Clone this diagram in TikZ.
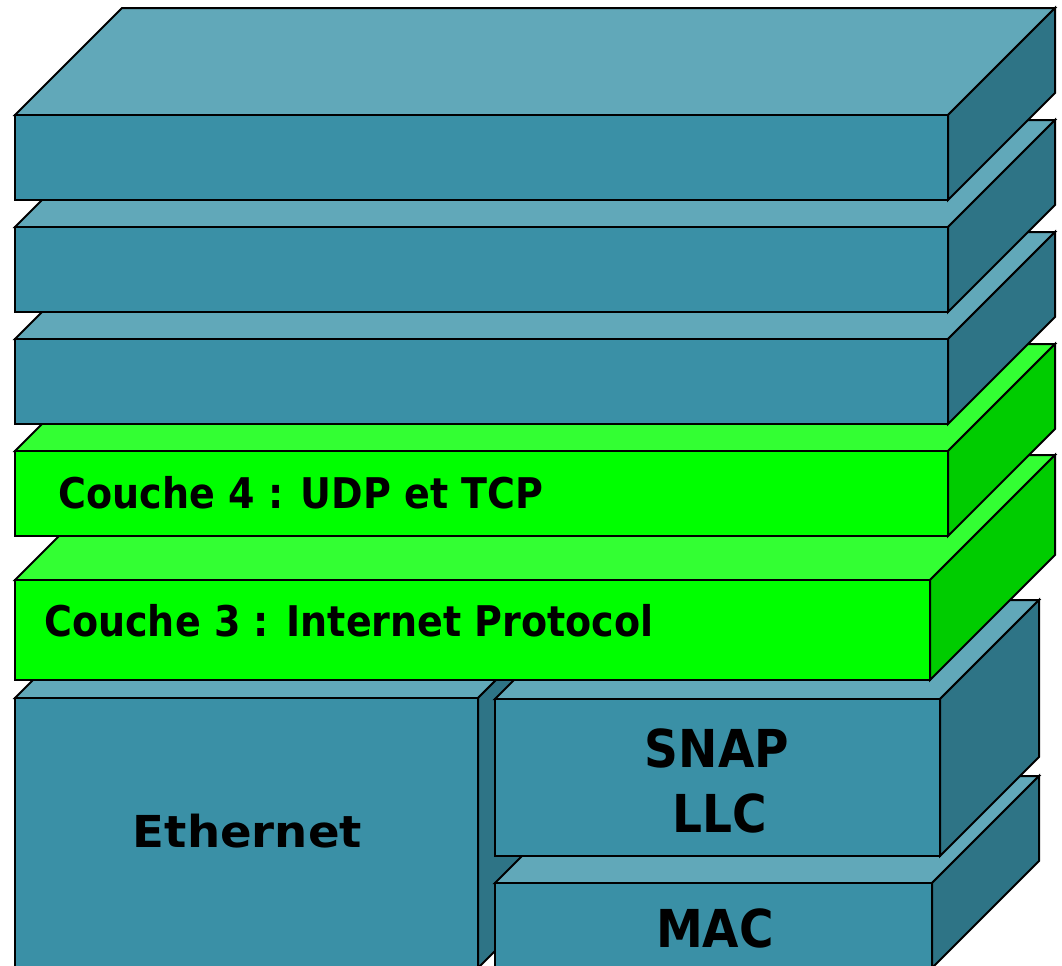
\documentclass[tikz,border=0pt]{standalone}
\usepackage{fontspec}
\newfontfamily\labA{DejaVu Sans}[FakeStretch=0.9]
\newfontfamily\labB{DejaVu Sans}[FakeStretch=1.06]
\definecolor{tealfront}{HTML}{3A90A6}
\definecolor{tealtop}{HTML}{61A8B9}
\definecolor{tealside}{HTML}{2E7486}
\definecolor{greenfront}{HTML}{00FF00}
\definecolor{greentop}{HTML}{33FF33}
\definecolor{greenside}{HTML}{00CC00}
\tikzset{
  boxline/.style={draw=black, line width=1.5pt, line join=miter},
  lblsmall/.style={inner sep=0pt, anchor=base, font=\labA\bfseries\fontsize{31.7}{36}\selectfont},
  lblbig/.style={inner sep=0pt, anchor=base, font=\labA\bfseries\fontsize{39.2}{44}\selectfont},
  lbleth/.style={inner sep=0pt, anchor=base, font=\labB\bfseries\fontsize{33}{38}\selectfont},
}
% #1 x1, #2 y1, #3 x2, #4 y2, #5 depth, #6 front, #7 top, #8 side
\newcommand{\layerbox}[8]{%
  \filldraw[boxline, fill=#7] (#1,#2) -- ({#1+#5},{#2-#5}) -- ({#3+#5},{#2-#5}) -- (#3,#2) -- cycle;
  \filldraw[boxline, fill=#8] (#3,#2) -- ({#3+#5},{#2-#5}) -- ({#3+#5},{#4-#5}) -- (#3,#4) -- cycle;
  \filldraw[boxline, fill=#6] (#1,#2) rectangle (#3,#4);
}
\begin{document}
\begin{tikzpicture}[x=0.75pt, y=-0.75pt]
\useasboundingbox (0,0) rectangle (1062,965);
\clip (0,0) rectangle (1062,965);
% bottom layer
\layerbox{15}{698}{478}{968}{100}{tealfront}{tealtop}{tealside}
\layerbox{495}{883}{932}{968}{107}{tealfront}{tealtop}{tealside}
\layerbox{495}{699}{940}{856}{99}{tealfront}{tealtop}{tealside}
% green layers
\layerbox{15}{580}{930}{680}{125}{greenfront}{greentop}{greenside}
\layerbox{15}{451}{948}{536}{107}{greenfront}{greentop}{greenside}
% upper layers
\layerbox{15}{339}{948}{424}{107}{tealfront}{tealtop}{tealside}
\layerbox{15}{227}{948}{312}{107}{tealfront}{tealtop}{tealside}
\layerbox{15}{115}{948}{200}{107}{tealfront}{tealtop}{tealside}
% labels
\node[lblsmall] (c4) at (301,508) {Couche 4 : UDP et TCP};
\node[lblsmall] (c3) at (349,636) {Couche 3 : Internet Protocol};
\node[lbleth] (eth) at (247.5,847) {Ethernet};
\node[lblbig] (snap) at (717,767) {SNAP};
\node[lblbig] (llc) at (719.5,832) {LLC};
\node[lblbig] (mac) at (715,947) {MAC};
\end{tikzpicture}
\end{document}
